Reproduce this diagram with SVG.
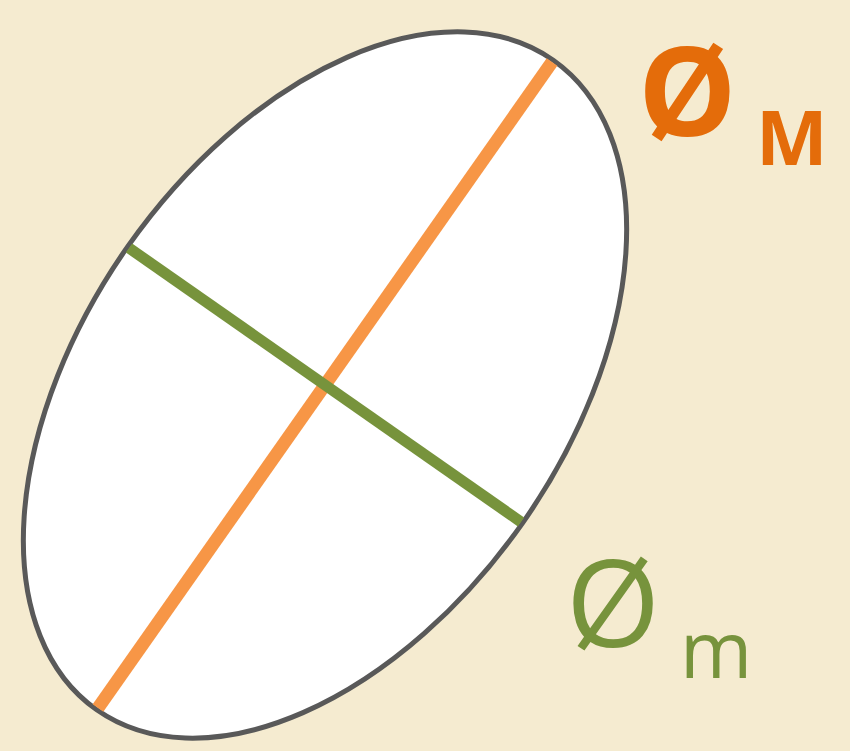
<svg xmlns="http://www.w3.org/2000/svg" width="850" height="751" viewBox="0 0 850 751">
<style>
.lbl{font-family:"Open Sans","Liberation Sans",Arial,sans-serif}
.or{fill:#e46c0a}
.gr{fill:#77933c}
</style>
<rect x="0" y="0" width="850" height="751" fill="#f5ebd0"/>
<g id="ellipse">
<ellipse cx="325" cy="385" rx="397" ry="241" transform="rotate(-54.9 325 385)" fill="#ffffff" stroke="#595959" stroke-width="5"/>
</g>
<g id="connectors">
<line x1="552" y1="62" x2="98" y2="708" stroke="#f79646" stroke-width="13"/>
<line x1="129" y1="248" x2="521" y2="522" stroke="#77933c" stroke-width="11"/>
</g>
<g id="label-major">
<text class="lbl or" x="638" y="136" font-size="124" font-weight="bold">Ø</text>
<text class="lbl or" x="756" y="165" font-size="76" font-weight="bold">M</text>
</g>
<g id="label-minor">
<text class="lbl gr" x="566" y="647" font-size="121">Ø</text>
<text class="lbl gr" x="680" y="678" font-size="78">m</text>
</g>
</svg>
